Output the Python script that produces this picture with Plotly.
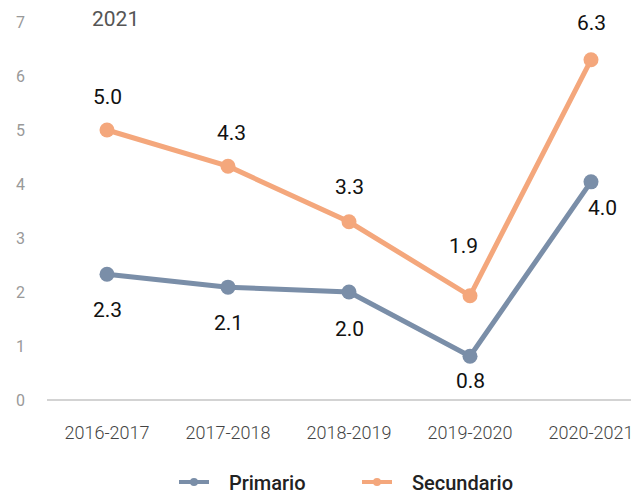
import plotly.graph_objects as go

categories = ["2016-2017", "2017-2018", "2018-2019", "2019-2020", "2020-2021"]
primario = [2.33, 2.09, 2.0, 0.81, 4.04]
secundario = [5.0, 4.33, 3.30, 1.93, 6.30]

PRIM_COLOR = "#7a8ea8"
SEC_COLOR = "#f4a77c"
# label offsets (px) per point
prim_dy = [-36, -36, -37, -25, -26]
prim_dx = [0, 0, 0, 0, 11]
sec_dy = [33, 33, 35, 50, 37]
sec_dx = [0, 3, 0, -7, 0]

W, H = 631, 487
L, T = 39, 14
B = H - 392
PW = W - L
PH = H - T - B
x0 = -60 / 121

fig = go.Figure()
fig.add_trace(go.Scatter(
    x=categories, y=primario, name="Primario", mode="lines+markers", showlegend=False,
    line=dict(color=PRIM_COLOR, width=5), marker=dict(size=15, color=PRIM_COLOR),
))
fig.add_trace(go.Scatter(
    x=categories, y=secundario, name="Secundario", mode="lines+markers", showlegend=False,
    line=dict(color=SEC_COLOR, width=5), marker=dict(size=15, color=SEC_COLOR),
))
# legend-only entries
fig.add_trace(go.Scatter(x=[None], y=[None], name="   Primario", mode="lines+markers",
                         line=dict(color=PRIM_COLOR, width=4), marker=dict(size=8, color=PRIM_COLOR)))
fig.add_trace(go.Scatter(x=[None], y=[None], name="   Secundario", mode="lines+markers",
                         line=dict(color=SEC_COLOR, width=4), marker=dict(size=8, color=SEC_COLOR)))

for cat, v, dy, dx in zip(categories, primario, prim_dy, prim_dx):
    fig.add_annotation(x=cat, y=v, text=f"{v:.1f}", showarrow=False, yshift=dy, xshift=dx,
                       font=dict(size=21, color="#111111", family="Roboto"))
for cat, v, dy, dx in zip(categories, secundario, sec_dy, sec_dx):
    fig.add_annotation(x=cat, y=v, text=f"{v:.1f}", showarrow=False, yshift=dy, xshift=dx,
                       font=dict(size=21, color="#111111", family="Roboto"))

fig.add_annotation(text="2021", xref="paper", yref="paper", x=(115 - 47) / PW, y=1 + T / PH,
                   showarrow=False, font=dict(size=21, color="#555555", family="Roboto"),
                   xanchor="center", yanchor="top", borderpad=0, yshift=2)

fig.update_layout(
    width=W, height=H,
    margin=dict(l=L, r=0, t=T, b=B),
    paper_bgcolor="white", plot_bgcolor="white",
    font=dict(family="Roboto", color="#444444"),
    showlegend=True,
    legend=dict(orientation="h", x=(174 - 47) / PW, yref="container", y=(H - 474) / H,
                xanchor="left", yanchor="middle",
                font=dict(size=20, color="#222222", family="Roboto", weight=500),
                traceorder="normal", itemwidth=30, entrywidth=138, entrywidthmode="pixels"),
    xaxis=dict(type="category", range=[x0, x0 + PW / 121], showgrid=False, showline=False, zeroline=False,
               automargin=False, ticks="outside", ticklen=16, tickcolor="rgba(0,0,0,0)",
               tickfont=dict(size=18, color="#444444", family="Roboto", weight=300)),
    yaxis=dict(range=[0, 7], dtick=1, showgrid=False, zeroline=True, zerolinecolor="#d3d3d3", zerolinewidth=2,
               automargin=False, showline=False, tickfont=dict(size=16, color="#999999", family="Roboto"),
               ticklabelstandoff=21),
)

fig.write_html("out.html")
